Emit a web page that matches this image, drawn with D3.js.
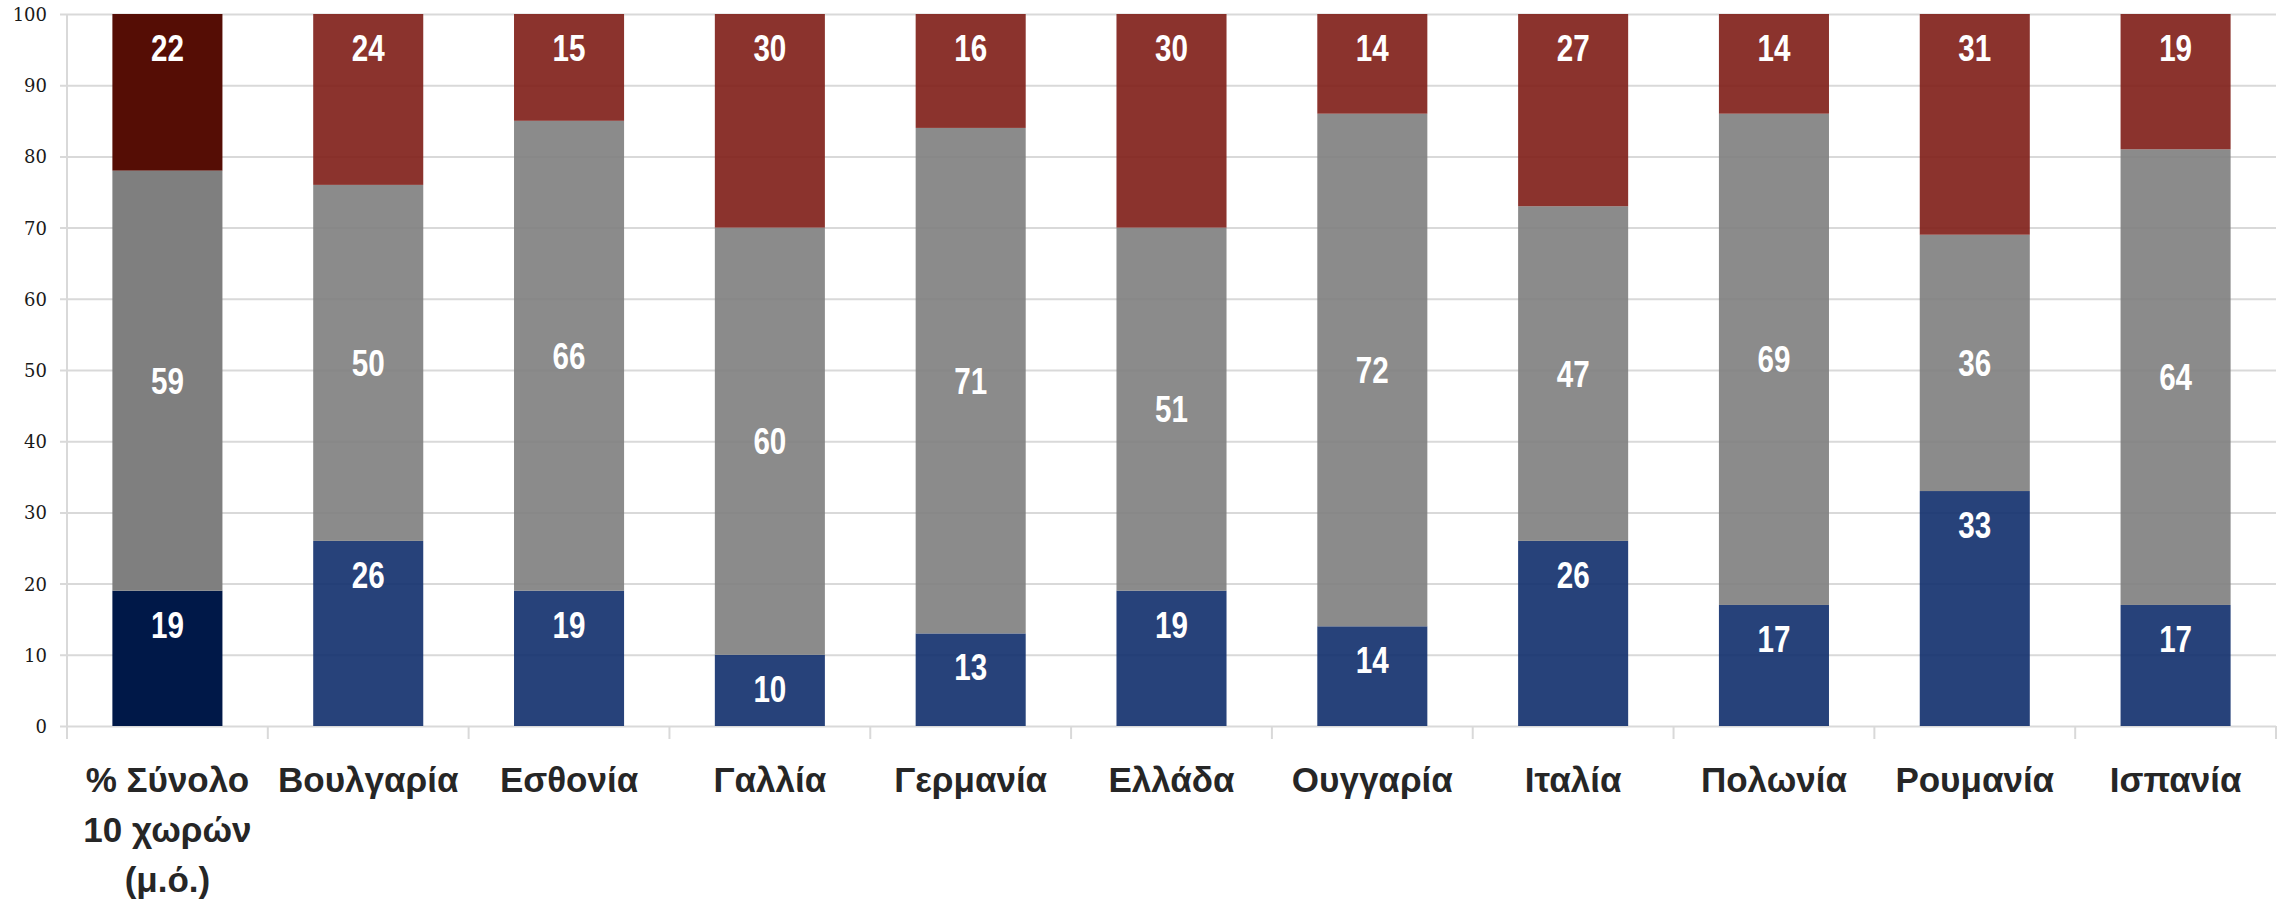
<!DOCTYPE html>
<html>
<head>
<meta charset="utf-8">
<script src="https://cdn.jsdelivr.net/npm/d3@7"></script>
<style>
  html, body { margin: 0; padding: 0; background: #fff; }
  svg { display: block; }
</style>
</head>
<body>
<svg id="chart"></svg>
<script>
const WIDTH = 2290;
const HEIGHT = 899;

// data
const categories = ['% Σύνολο\n10 χωρών\n(μ.ό.)', 'Βουλγαρία', 'Εσθονία', 'Γαλλία', 'Γερμανία',
    'Ελλάδα', 'Ουγγαρία', 'Ιταλία', 'Πολωνία', 'Ρουμανία', 'Ισπανία'];
const lowValues = [19, 26, 19, 10, 13, 19, 14, 26, 17, 33, 17];
const midValues = [59, 50, 66, 60, 71, 51, 72, 47, 69, 36, 64];
const highValues = [22, 24, 15, 30, 16, 30, 14, 27, 14, 31, 19];
const yTicks = [0, 10, 20, 30, 40, 50, 60, 70, 80, 90, 100];

const margin = { top: 14, right: 14, bottom: 173, left: 67 };
const plotW = WIDTH - margin.left - margin.right;
const plotH = HEIGHT - margin.top - margin.bottom;

// first bar (average) is darker and solid, the others slightly see-through
const avgColors = ['#001848', '#7f7f7f', '#550d05'];
const barColors = ['#0f2d6b', '#7e7e7e', '#7e1d16'];
const gridColor = '#d9d9d9';

let svg = d3.select('#chart')
    .attr('width', WIDTH)
    .attr('height', HEIGHT);

let g = svg.append('g')
    .attr('transform', `translate(${margin.left},${margin.top})`);

let x = d3.scaleBand()
    .domain(categories)
    .range([0, plotW])
    .paddingInner(0.452)
    .paddingOuter(0.226);

let y = d3.scaleLinear()
    .domain([0, 100])
    .range([plotH, 0]);

// y axis with gridlines
let yAxis = g.append('g')
    .call(d3.axisLeft(y)
        .tickValues(yTicks)
        .tickSizeInner(-plotW)
        .tickSizeOuter(0)
        .tickPadding(20));
yAxis.select('.domain').remove();
yAxis.selectAll('line')
    .attr('x1', -7)
    .attr('stroke', gridColor)
    .attr('stroke-width', 2);
yAxis.selectAll('text')
    .attr('x', -20)
    .attr('dy', '0.36em')
    .attr('fill', '#1a1a1a')
    .style('font-family', '"DejaVu Serif", serif')
    .style('font-size', '18px');

// y axis line
g.append('line')
    .attr('x1', 0).attr('x2', 0)
    .attr('y1', y(100)).attr('y2', y(0) + 13)
    .attr('stroke', gridColor)
    .attr('stroke-width', 2);

// category boundary ticks
g.append('g')
    .selectAll('line')
    .data(d3.range(categories.length + 1))
    .enter()
    .append('line')
        .attr('x1', (d) => d * x.step())
        .attr('x2', (d) => d * x.step())
        .attr('y1', y(0))
        .attr('y2', y(0) + 13)
        .attr('stroke', gridColor)
        .attr('stroke-width', 2);

// stack the three series
let rows = categories.map((c, i) => ({
    cat: c,
    idx: i,
    low: lowValues[i],
    mid: midValues[i],
    high: highValues[i]
}));
let keys = ['low', 'mid', 'high'];
let stacked = d3.stack().keys(keys)(rows);

let layers = g.append('g')
    .selectAll('g')
    .data(stacked)
    .enter()
    .append('g');

layers.selectAll('rect')
    .data((d, k) => d.map(p => ({ p: p, k: k })))
    .enter()
    .append('rect')
        .attr('x', (d) => x(d.p.data.cat))
        .attr('width', x.bandwidth())
        .attr('y', (d) => y(d.p[1]))
        .attr('height', (d) => y(d.p[0]) - y(d.p[1]))
        .attr('fill', (d) => d.p.data.idx === 0 ? avgColors[d.k] : barColors[d.k])
        .attr('fill-opacity', (d) => d.p.data.idx === 0 ? 1 : 0.9);

// value labels: middle series centred, others near the top of their segment
// narrow look: squeeze a bold sans horizontally
function labelY(d){
    if (d.k === 1) {
        return y((d.p[0] + d.p[1]) / 2) + 13;
    }
    return y(d.p[1]) + 47;
}
layers.selectAll('text')
    .data((d, k) => d.map(p => ({ p: p, k: k })))
    .enter()
    .append('text')
        .attr('transform', (d) => `translate(${x(d.p.data.cat) + x.bandwidth() / 2},${labelY(d)}) scale(0.8,1)`)
        .attr('text-anchor', 'middle')
        .attr('fill', '#fff')
        .style('font-family', '"Liberation Sans", Arial, sans-serif')
        .style('font-weight', 'bold')
        .style('font-size', '37px')
        .text((d) => d.p[1] - d.p[0]);

// category labels
let catLabels = g.append('g')
    .selectAll('text')
    .data(categories)
    .enter()
    .append('text')
        .attr('x', (d) => x(d) + x.bandwidth() / 2)
        .attr('y', y(0) + 66)
        .attr('text-anchor', 'middle')
        .attr('fill', '#262626')
        .style('font-family', '"Liberation Sans", Arial, sans-serif')
        .style('font-weight', 'bold')
        .style('font-size', '35px');

catLabels.selectAll('tspan')
    .data((d) => d.split('\n').map(s => ({ s: s, c: d })))
    .enter()
    .append('tspan')
        .attr('x', (d) => x(d.c) + x.bandwidth() / 2)
        .attr('dy', (d, i) => i === 0 ? 0 : 50)
        .text((d) => d.s);
</script>
</body>
</html>
